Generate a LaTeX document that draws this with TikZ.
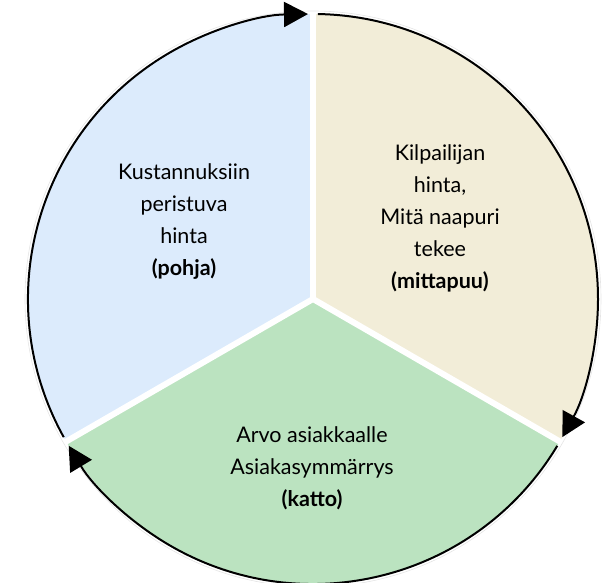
\documentclass[tikz,border=0pt]{standalone}
\usepackage{fontspec}
\setmainfont{Lato}
\usetikzlibrary{arrows.meta}
\definecolor{costblue}{HTML}{DCEBFC}
\definecolor{rivalbeige}{HTML}{F2EDD8}
\definecolor{valuegreen}{HTML}{BBE3C0}

\begin{document}
\begin{tikzpicture}[x=1pt,y=1pt,>={Triangle[length=24pt,width=25pt]},
  sectortext/.style={align=center,font=\fontsize{21.5}{32}\selectfont},
  rim/.style={line width=2pt,->}]
  \useasboundingbox (0,0) rectangle (608,583);
  \coordinate (c) at (313,284);

  % sectors
  \fill[costblue] (c) -- ++(90:285) arc[start angle=90,end angle=210,radius=285] -- cycle;
  \fill[valuegreen] (c) -- ++(210:285) arc[start angle=210,end angle=330,radius=285] -- cycle;
  \fill[rivalbeige] (c) -- ++(-30:285) arc[start angle=-30,end angle=90,radius=285] -- cycle;
  \foreach \a in {90,-30,210}
    \draw[white,line width=6pt] (c) -- ++(\a:300);
  \draw[gray!20,line width=0.6pt] (c) circle[radius=288];

  % rim arrows
  \coordinate (s1) at ([shift={(209:285)}]c);
  \coordinate (s2) at ([shift={(89:285)}]c);
  \coordinate (s3) at ([shift={(-31:285)}]c);
  \draw[rim] (s1) arc[start angle=209,end angle=91,radius=285];
  \draw[rim] (s2) arc[start angle=89,end angle=-29,radius=285];
  \draw[rim] (s3) arc[start angle=-31,end angle=-149,radius=285];

  % texts
  \node[sectortext] (cost) at (184,361) {Kustannuksiin\\peristuva\\hinta\\\textbf{(pohja)}};
  \node[sectortext] (rival) at (440,365) {Kilpailijan\\hinta,\\Mitä naapuri\\tekee\\\textbf{(mittapuu)}};
  \node[sectortext] (value) at (312,115) {Arvo asiakkaalle\\Asiakasymmärrys\\\textbf{(katto)}};
\end{tikzpicture}
\end{document}
